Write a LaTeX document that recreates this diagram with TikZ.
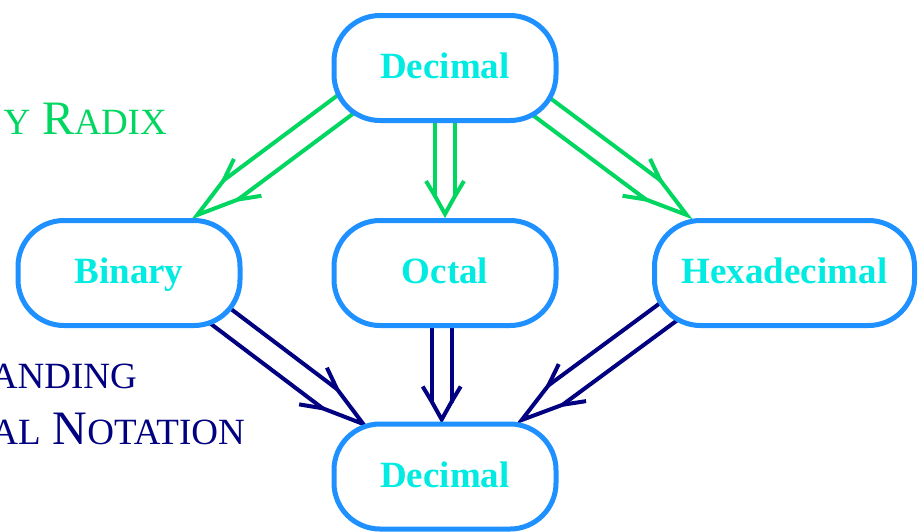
\documentclass[tikz,border=0pt]{standalone}
\usepackage{fontspec}
\setmainfont{Liberation Serif}
\usetikzlibrary{calc}

\definecolor{boxblue}{RGB}{30,144,255}
\definecolor{labelcyan}{RGB}{0,235,225}
\definecolor{radixgreen}{RGB}{0,214,96}
\definecolor{notenavy}{RGB}{0,0,128}

\pgfdeclarelayer{links}
\pgfsetlayers{links,main}

% capitals set smaller, standing in for small caps
\newcommand\fakesc[1]{{\fontsize{37}{37}\selectfont\uppercase{#1}}}

% double-shafted arrow: #1 style, #2 origin, #3 tip, #4 half gap,
% #5 where the shafts meet the head, #6 head length, #7 barb half width
\newcommand\twinarrow[7]{%
  \coordinate (tw-j) at ($(#3)!#5!(#2)$);
  \coordinate (tw-h) at ($(#3)!#6!(#2)$);
  \draw[#1, line cap=round]
    ($(#2)!#4!90:(#3)$) -- ($(tw-j)!#4!90:(#3)$)
    ($(#2)!#4!-90:(#3)$) -- ($(tw-j)!#4!-90:(#3)$);
  \draw[#1, line join=miter]
    ($(tw-h)!#7!90:(#3)$) -- ($(tw-j)!#4!90:(#3)$) -- (#3)
    -- ($(tw-j)!#4!-90:(#3)$) -- ($(tw-h)!#7!-90:(#3)$);
}

\tikzset{
  radixbox/.style={draw=boxblue, line width=5pt, fill=white,
    rounded corners=46pt, minimum width=222pt, minimum height=105pt,
    inner xsep=27pt, text height=28pt, text depth=7pt, text=labelcyan,
    font=\fontsize{37}{40}\selectfont\bfseries},
  greenlink/.style={draw=radixgreen, line width=4pt},
  navylink/.style={draw=notenavy, line width=4pt},
  sidetext/.style={anchor=base east, inner sep=0pt,
    font=\fontsize{48}{48}\selectfont},
}

\begin{document}
\begin{tikzpicture}[x=1pt,y=-1pt]
\useasboundingbox (0,0) rectangle (918,531);

% side headings
\node[sidetext, text=radixgreen] (radix) at (167,134) {\fakesc{y} R\fakesc{adix}};
\node[sidetext, text=notenavy] (notea) at (137,388) {\fakesc{anding}};
\node[sidetext, text=notenavy] (noteb) at (245,444) {\fakesc{al} N\fakesc{otation}};

% number systems
\node[radixbox] (dtop) at (445,68) {Decimal};
\node[radixbox] (bin) at (129,273) {Binary};
\node[radixbox] (oct) at (445,273) {Octal};
\node[radixbox, minimum width=260pt] (hex) at (784.5,273) {Hexadecimal};
\node[radixbox] (dbot) at (445,476.5) {Decimal};

% arrow origins (inside the boxes) and tips
\coordinate (gLo) at ($(dtop.center)+(-65.6,11.1)$);
\coordinate (gLt) at ($(bin.north)+(68.2,-3)$);
\coordinate (gMo) at ($(dtop.center)+(0,20)$);
\coordinate (gMt) at ($(oct.north)+(0,-4)$);
\coordinate (gRo) at ($(dtop.center)+(59.6,11.1)$);
\coordinate (gRt) at ($(hex.north)+(-97.7,-3)$);
\coordinate (nLo) at ($(bin.center)+(51.9,13.2)$);
\coordinate (nLt) at ($(dbot.north)+(-81.7,2.5)$);
\coordinate (nMo) at ($(oct.center)+(-3.3,27)$);
\coordinate (nMt) at ($(dbot.north)+(-3.3,-2)$);
\coordinate (nRo) at ($(hex.center)+(-80.1,12.3)$);
\coordinate (nRt) at ($(dbot.north)+(76.7,-1.5)$);

\begin{pgfonlayer}{links}
  \twinarrow{greenlink}{gLo}{gLt}{12pt}{42pt}{63pt}{23pt}
  \twinarrow{greenlink}{gMo}{gMt}{10pt}{18pt}{33pt}{19pt}
  \twinarrow{greenlink}{gRo}{gRt}{12pt}{42pt}{63pt}{23pt}
  \twinarrow{navylink}{nLo}{nLt}{12pt}{42pt}{63pt}{23pt}
  \twinarrow{navylink}{nMo}{nMt}{10pt}{18pt}{33pt}{19pt}
  \twinarrow{navylink}{nRo}{nRt}{12pt}{42pt}{63pt}{23pt}
\end{pgfonlayer}
\end{tikzpicture}
\end{document}
